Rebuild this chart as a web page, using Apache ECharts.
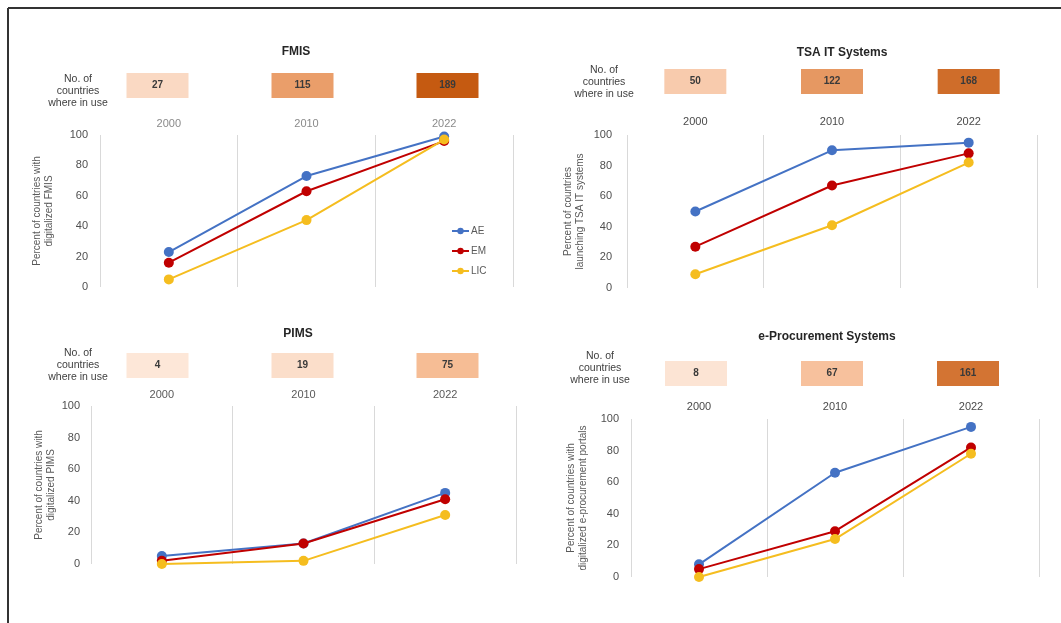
<!DOCTYPE html>
<html>
<head>
<meta charset="utf-8">
<script src="https://cdn.jsdelivr.net/npm/echarts@6/dist/echarts.min.js"></script>
<style>
html,body{margin:0;padding:0;background:#fff;}
#chart{width:1061px;height:623px;}
</style>
</head>
<body>
<div id="chart"></div>
<script>
// ---- data ----
const years = ['2000', '2010', '2022'];
const seriesNames = ['AE', 'EM', 'LIC'];
const panelTitles = ['FMIS', 'TSA IT Systems', 'PIMS', 'e-Procurement Systems'];
const yAxisNames = [
  'Percent of countries with\ndigitalized FMIS',
  'Percent of countries\nlaunching TSA IT systems',
  'Percent of countries with\ndigitalized PIMS',
  'Percent of countries with\ndigitalized e-procurement portals'
];
const countLabel = 'No. of\ncountries\nwhere in use';

const fmisAE = [23, 73, 99];
const fmisEM = [16, 63, 96];
const fmisLIC = [5, 44, 97];
const fmisCount = [27, 115, 189];

const tsaAE = [50, 90, 95];
const tsaEM = [27, 67, 88];
const tsaLIC = [9, 41, 82];
const tsaCount = [50, 122, 168];

const pimsAE = [5, 13, 45];
const pimsEM = [2, 13, 41];
const pimsLIC = [0, 2, 31];
const pimsCount = [4, 19, 75];

const eproAE = [8, 66, 95];
const eproEM = [5, 29, 82];
const eproLIC = [0, 24, 78];
const eproCount = [8, 67, 161];

const yTicks = [0, 20, 40, 60, 80, 100];

// ---- layout / style ----
const panelData = [
  [fmisAE, fmisEM, fmisLIC],
  [tsaAE, tsaEM, tsaLIC],
  [pimsAE, pimsEM, pimsLIC],
  [eproAE, eproEM, eproLIC]
];
const panelCounts = [fmisCount, tsaCount, pimsCount, eproCount];
const mainGrids = [
  {left: 100, top: 135, width: 413, height: 152},
  {left: 627, top: 135, width: 410, height: 153},
  {left: 91, top: 406, width: 425, height: 158},
  {left: 631, top: 419, width: 408, height: 158}
];
const headGrids = [
  {left: 85, top: 73, width: 435, height: 25},
  {left: 627, top: 69, width: 410, height: 25},
  {left: 85, top: 353, width: 435, height: 25},
  {left: 628, top: 361, width: 408, height: 25}
];
const yearColors = ['#8a8a8a', '#4a4a4a', '#595959', '#4a4a4a'];
const yearMargins = [6, 8, 6, 7];
const yLabelMargins = [12, 15, 11, 12];
const nameGaps = [45, 41, 33, 42];
const titlePos = [[296, 46], [842, 47], [298, 328], [827, 331]];
const countLabelPos = [[78, 73], [604, 64], [78, 347], [600, 350]];
const colors = {AE: '#4472c4', EM: '#c00000', LIC: '#f5bd1f'};
const FONT = '"Liberation Sans", Arial, sans-serif';

const grid = [], xAxis = [], yAxis = [], series = [], title = [];

mainGrids.forEach((g, i) => {
  grid.push(Object.assign({containLabel: false}, g));
  xAxis.push({
    type: 'category', gridIndex: i, data: years, position: 'top', boundaryGap: true,
    axisLine: {show: false}, axisTick: {show: false},
    axisLabel: {color: yearColors[i], fontSize: 11, margin: yearMargins[i], fontFamily: FONT},
    splitLine: {show: true, lineStyle: {color: '#d9d9d9', width: 1}}
  });
  yAxis.push({
    type: 'value', gridIndex: i, min: yTicks[0], max: yTicks[yTicks.length - 1], interval: 20,
    axisLine: {show: false}, axisTick: {show: false}, splitLine: {show: false},
    axisLabel: {color: '#4f4f4f', fontSize: 11, margin: yLabelMargins[i], fontFamily: FONT},
    name: yAxisNames[i], nameLocation: 'middle', nameRotate: 90, nameGap: nameGaps[i],
    nameTextStyle: {color: '#595959', fontSize: 10, lineHeight: 12, fontFamily: FONT}
  });
});
headGrids.forEach((g, i) => {
  grid.push(Object.assign({}, g));
  xAxis.push({type: 'category', gridIndex: 4 + i, data: years, show: false, boundaryGap: true});
  yAxis.push({type: 'category', gridIndex: 4 + i, data: ['n'], show: false});
});

panelData.forEach((arrs, i) => {
  arrs.forEach((arr, k) => {
    const nm = seriesNames[k];
    series.push({
      type: 'line', name: nm, xAxisIndex: i, yAxisIndex: i, data: arr,
      symbol: 'circle', symbolSize: 10,
      lineStyle: {color: colors[nm], width: 2},
      itemStyle: {color: colors[nm]},
      z: 2 + k
    });
  });
});

function boxRender(params, api) {
  const c = api.coord([api.value(0), api.value(1)]);
  const h = api.size([0, 1])[1];
  return {
    type: 'group',
    children: [
      {type: 'rect', shape: {x: c[0] - 31, y: c[1] - h / 2, width: 62, height: h},
       style: {fill: api.visual('color')}},
      {type: 'text', style: {text: String(api.value(2)), x: c[0], y: c[1], align: 'center',
        verticalAlign: 'middle', fontSize: 10, fontWeight: 'bold', fontFamily: FONT, fill: '#3a3a3a'}}
    ]
  };
}
const boxSeriesIdx = [];
panelCounts.forEach((cnt, i) => {
  boxSeriesIdx.push(series.length);
  series.push({
    type: 'custom', name: 'count' + i, xAxisIndex: 4 + i, yAxisIndex: 4 + i,
    data: cnt.map((v, j) => [j, 0, v]),
    encode: {x: 0, y: 1},
    renderItem: boxRender
  });
});

panelTitles.forEach((t, i) => {
  title.push({text: t, left: titlePos[i][0], top: titlePos[i][1], textAlign: 'center', padding: 0,
    textStyle: {fontSize: 12, fontWeight: 'bold', color: '#262626', fontFamily: FONT}});
  title.push({text: countLabel, left: countLabelPos[i][0], top: countLabelPos[i][1], textAlign: 'center', padding: 0,
    textStyle: {fontSize: 10.5, fontWeight: 'normal', color: '#404040', lineHeight: 12, fontFamily: FONT}});
});

const option = {
  animation: false,
  backgroundColor: '#ffffff',
  title: title,
  grid: grid,
  xAxis: xAxis,
  yAxis: yAxis,
  legend: {
    data: seriesNames, orient: 'vertical', left: 451, top: 226, padding: 0,
    itemWidth: 17, itemHeight: 8, itemGap: 10,
    textStyle: {color: '#595959', fontSize: 10, fontFamily: FONT, padding: [0, 0, 0, -3]}
  },
  visualMap: {
    type: 'continuous', show: false, min: 0, max: 189, dimension: 2,
    seriesIndex: boxSeriesIdx,
    inRange: {color: ['#fde9dc', '#f4b183', '#c55a11']}
  },
  graphic: [
    {type: 'line', shape: {x1: 8, y1: 8, x2: 1061, y2: 8}, style: {stroke: '#333', lineWidth: 2}},
    {type: 'line', shape: {x1: 8, y1: 8, x2: 8, y2: 623}, style: {stroke: '#333', lineWidth: 2}}
  ],
  series: series
};

const chart = echarts.init(document.getElementById('chart'), null, {renderer: 'canvas'});
chart.setOption(option);
</script>
</body>
</html>
